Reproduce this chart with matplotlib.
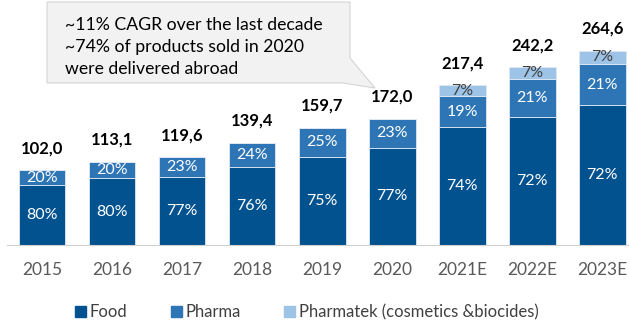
import matplotlib.pyplot as plt
import matplotlib.patches as mpatches
import numpy as np

plt.rcParams['font.family'] = ['Lato', 'DejaVu Sans']

years = ['2015', '2016', '2017', '2018', '2019', '2020', '2021E', '2022E', '2023E']
totals = [102.0, 113.1, 119.6, 139.4, 159.7, 172.0, 217.4, 242.2, 264.6]
food_pct = [80, 80, 77, 76, 75, 77, 74, 72, 72]
pharma_pct = [20, 20, 23, 24, 25, 23, 19, 21, 21]
pharmatek_pct = [0, 0, 0, 0, 0, 0, 7, 7, 7]

c_food = '#02528F'
c_pharma = '#2E75B6'
c_tek = '#9DC3E6'

fig = plt.figure(figsize=(6.29, 3.2), dpi=100)
ax = fig.add_axes([7/629, 75/320, 621/629, 245/320])

x = np.arange(len(years))
tot = np.array(totals)
food = tot * np.array(food_pct) / 100
pharma = tot * np.array(pharma_pct) / 100
tek = tot * np.array(pharmatek_pct) / 100

w = 0.67
ax.bar(x, food, w, color=c_food, edgecolor='#dfe8f3', linewidth=0.6)
ax.bar(x, pharma, w, bottom=food, color=c_pharma, edgecolor='#dfe8f3', linewidth=0.6)
ax.bar(x, tek, w, bottom=food + pharma, color=c_tek, edgecolor='#dfe8f3', linewidth=0.6)

for i in range(len(years)):
    ax.text(x[i], food[i] / 2, f'{food_pct[i]}%', ha='center', va='center',
            color='white', fontsize=11.5)
    ax.text(x[i], food[i] + pharma[i] / 2, f'{pharma_pct[i]}%', ha='center',
            va='center', color='white', fontsize=11.5)
    if pharmatek_pct[i]:
        ax.text(x[i], food[i] + pharma[i] + tek[i] / 2, f'{pharmatek_pct[i]}%',
                ha='center', va='center', color='#404040', fontsize=11.5)
    ax.annotate(f'{totals[i]:.1f}'.replace('.', ','), (x[i], tot[i]),
                xytext=(0, 10), textcoords='offset points', ha='center',
                va='bottom', fontsize=12, fontweight='bold')

ax.set_xlim(-0.5, 8.37)
ax.set_ylim(0, 245 / 0.735)
ax.set_xticks(x)
ax.set_xticklabels(years, fontsize=12.5, color='#595959')
ax.tick_params(axis='x', length=0, pad=12)
ax.set_yticks([])
for s in ['top', 'right', 'left']:
    ax.spines[s].set_visible(False)
ax.spines['bottom'].set_color('#d0d0d0')

# callout box with its pointer towards the 2020 label
box = mpatches.Polygon(
    [(47/629, 1 - 2/320), (350/629, 1 - 2/320), (350/629, 1 - 58/320),
     (375/629, 1 - 88/320), (343/629, 1 - 83/320), (47/629, 1 - 83/320)],
    closed=True, transform=fig.transFigure, facecolor='#f2f2f2',
    edgecolor='#d4d4d4', linewidth=0.8, zorder=5)
fig.patches.append(box)
fig.text(65/629, 1 - 17/320,
         '~11% CAGR over the last decade\n~74% of products sold in 2020\nwere delivered abroad',
         ha='left', va='top', fontsize=12.7, linespacing=1.47, zorder=6)

handles = [mpatches.Patch(color=c_food, label='Food'),
           mpatches.Patch(color=c_pharma, label='Pharma'),
           mpatches.Patch(color=c_tek, label='Pharmatek (cosmetics &biocides)')]
leg = fig.legend(handles=handles, loc='center', bbox_to_anchor=(0.488, 0.025),
                 ncol=3, frameon=False, fontsize=12, handlelength=0.65,
                 handleheight=0.65, handletextpad=0.25, columnspacing=2.6)
for t in leg.get_texts():
    t.set_color('#404040')

fig.savefig('out.png', dpi=100)
